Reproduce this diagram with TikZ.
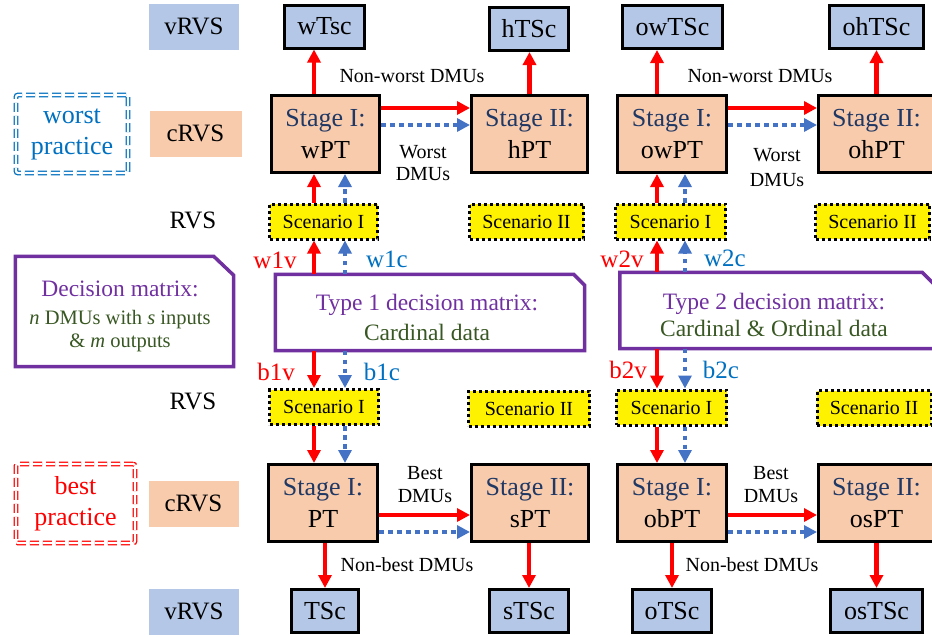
\documentclass[tikz,border=0pt]{standalone}
\usepackage{fontspec}
\setmainfont{Liberation Serif}
\usetikzlibrary{arrows.meta,calc}
\definecolor{peach}{HTML}{F8CBAD}
\definecolor{lblue}{HTML}{B4C7E7}
\definecolor{arrblue}{HTML}{4472C4}
\definecolor{txtblue}{HTML}{0070C0}
\definecolor{navy}{HTML}{203864}
\definecolor{purp}{HTML}{7030A0}
\definecolor{dgreen}{HTML}{385723}
\begin{document}
\begin{tikzpicture}[x=1pt,y=-1pt,
  lblbox/.style={fill=#1, minimum width=90pt, minimum height=46pt, inner sep=0pt, font=\fontsize{25}{30}\selectfont},
  plain/.style={inner sep=0pt, font=\fontsize{25}{30}\selectfont},
  practice/.style={draw=#1, text=#1, double=white, double distance=2.2pt, line width=1.3pt,
     dash pattern=on 9pt off 4pt, rounded corners=2pt, align=center, inner sep=0pt,
     font=\fontsize{26}{31}\selectfont},
  stagebox/.style={draw=black, line width=3pt, fill=peach, minimum width=#1, minimum height=77pt,
     inner sep=0pt, align=center, font=\fontsize{26}{32}\selectfont},
  tscbox/.style={draw=black, line width=3pt, fill=lblue, minimum width=#1, minimum height=43pt,
     inner sep=0pt, font=\fontsize{26}{30}\selectfont},
  scen/.style={draw=black, line width=3pt, dash pattern=on 3pt off 3pt, fill=yellow,
     minimum width=#1, minimum height=35pt, inner sep=0pt, font=\fontsize{20}{24}\selectfont},
  lab/.style={inner sep=0pt, align=center, font=\fontsize{20}{22}\selectfont},
  vlab/.style={inner sep=0pt, text=#1, font=\fontsize{25}{30}\selectfont},
  redarr/.style={draw=red, line width=4.8pt, -{Triangle[width=13pt,length=13pt]}},
  bluearr/.style={draw=arrblue, line width=4.5pt, dash pattern=on 4.5pt off 4.5pt, -{Triangle[width=13pt,length=13pt]}},
  matbox/.style={minimum width=#1, minimum height=76pt, inner sep=0pt, align=center},
  matline/.style={draw=purp, line width=3.5pt, line join=miter}
]
\useasboundingbox (0,0) rectangle (932,637);

% left column
\node[lblbox=lblue] (vtop) at (194,26.5) {vRVS};
\node[lblbox=peach, minimum width=92pt] (ctop) at (195.5,133.5) {cRVS};
\node[plain] (rvstop) at (193,220) {RVS};
\node[plain] (rvsbot) at (193,401) {RVS};
\node[lblbox=peach] (cbot) at (193.5,503.5) {cRVS};
\node[lblbox=lblue] (vbot) at (194,611.5) {vRVS};
\node[practice=txtblue, minimum width=112pt, minimum height=78pt] (worst) at (72,134) {worst\\practice};
\node[practice=red, minimum width=119pt, minimum height=79pt] (best) at (75.5,503.5) {best\\practice};

% decision matrix
\node[matbox=218pt, minimum height=110pt] (dm) at (124.5,311.5) {};
\node[inner sep=0pt, align=center, font=\fontsize{20.5}{23}\selectfont] (dmtxt) at (120,316)
  {{\fontsize{23.5}{23}\selectfont\color{purp}Decision matrix:}\\[5pt]
   \color{dgreen}\textit{n} DMUs with \textit{s} inputs\\
   \color{dgreen}\& \textit{m} outputs};
\draw[matline] (dm.south west) -- (dm.north west) -- ($(dm.north east)+(-20,0)$) -- ($(dm.north east)+(0,19)$) -- (dm.south east) -- cycle;

\node[matbox=309pt] (t1) at (430,312.5) {};
\node[inner sep=0pt, align=center, font=\fontsize{23.5}{30}\selectfont] (t1txt) at (427,317)
  {\color{purp}Type 1 decision matrix:\\
   \color{dgreen}Cardinal data};
\draw[matline] (t1.south west) -- (t1.north west) -- ($(t1.north east)+(-11,0)$) -- ($(t1.north east)+(0,11)$) -- (t1.south east) -- cycle;

\node[matbox=314pt] (t2) at (777,310.5) {};
\node[inner sep=0pt, align=center, font=\fontsize{23.5}{27}\selectfont] (t2txt) at (774,315)
  {\color{purp}Type 2 decision matrix:\\
   \color{dgreen}Cardinal \& Ordinal data};
\draw[matline] (t2.south west) -- (t2.north west) -- ($(t2.north east)+(-12,0)$) -- ($(t2.north east)+(0,12)$) -- (t2.south east) -- cycle;

% stage boxes
\node[stagebox=108pt] (wPT) at (325.5,134) {\textcolor{navy}{Stage I:}\\wPT};
\node[stagebox=116pt] (hPT) at (529.5,134) {\textcolor{navy}{Stage II:}\\hPT};
\node[stagebox=109pt] (owPT) at (672,134) {\textcolor{navy}{Stage I:}\\owPT};
\node[stagebox=116pt] (ohPT) at (876.5,134) {\textcolor{navy}{Stage II:}\\ohPT};
\node[stagebox=109pt] (PT) at (323,503) {\textcolor{navy}{Stage I:}\\PT};
\node[stagebox=117pt] (sPT) at (530,503) {\textcolor{navy}{Stage II:}\\sPT};
\node[stagebox=109pt] (obPT) at (672,503) {\textcolor{navy}{Stage I:}\\obPT};
\node[stagebox=116pt] (osPT) at (876.5,503) {\textcolor{navy}{Stage II:}\\osPT};

% result boxes
\node[tscbox=80pt] (wTsc) at (324.5,26.5) {wTsc};
\node[tscbox=79pt] (hTSc) at (529,29) {hTSc};
\node[tscbox=100pt] (owTSc) at (672.5,27) {owTSc};
\node[tscbox=94pt] (ohTSc) at (876.5,27) {ohTSc};
\node[tscbox=67pt] (TSc) at (325,611) {TSc};
\node[tscbox=79pt] (sTSc) at (529,611) {sTSc};
\node[tscbox=79pt] (oTSc) at (672,611) {oTSc};
\node[tscbox=92pt] (osTSc) at (876.5,611) {osTSc};

% scenarios
\node[scen=108pt] (sw1) at (323.5,221.5) {Scenario I};
\node[scen=114pt] (sw2) at (526.5,221.5) {Scenario II};
\node[scen=110pt] (sw3) at (670.5,221.5) {Scenario I};
\node[scen=114pt] (sw4) at (872.5,221.5) {Scenario II};
\node[scen=109pt] (sb1) at (324,407) {Scenario I};
\node[scen=121pt] (sb2) at (529,408.5) {Scenario II};
\node[scen=110pt] (sb3) at (671.5,407.5) {Scenario I};
\node[scen=114pt] (sb4) at (874,408) {Scenario II};

% guide coordinates
\coordinate (xr1) at (314,0);
\coordinate (xb1) at (345,0);
\coordinate (xr2) at (657,0);
\coordinate (xb2) at (685,0);
\coordinate (yr1) at (0,108);
\coordinate (yb1) at (0,125);
\coordinate (yr2) at (0,515);
\coordinate (yb2) at (0,532);

% top half arrows
\draw[redarr] (wPT.north -| xr1) -- (wTsc.south -| xr1);
\draw[redarr] (hPT.north) -- (hPT.north |- hTSc.south);
\draw[redarr] (owPT.north -| xr2) -- (owTSc.south -| xr2);
\draw[redarr] (ohPT.north) -- (ohPT.north |- ohTSc.south);
\draw[redarr] (wPT.east |- yr1) -- (hPT.west |- yr1);
\draw[bluearr] (wPT.east |- yb1) -- (hPT.west |- yb1);
\draw[redarr] (owPT.east |- yr1) -- (ohPT.west |- yr1);
\draw[bluearr] (owPT.east |- yb1) -- (ohPT.west |- yb1);
\draw[redarr] (sw1.north -| xr1) -- (wPT.south -| xr1);
\draw[bluearr] (sw1.north -| xb1) -- (wPT.south -| xb1);
\draw[redarr] (sw3.north -| xr2) -- (owPT.south -| xr2);
\draw[bluearr] (sw3.north -| xb2) -- (owPT.south -| xb2);
\draw[redarr] (t1.north -| xr1) -- (sw1.south -| xr1);
\draw[bluearr] (t1.north -| xb1) -- (sw1.south -| xb1);
\draw[redarr] (t2.north -| xr2) -- (sw3.south -| xr2);
\draw[bluearr] (t2.north -| xb2) -- (sw3.south -| xb2);

% bottom half arrows
\draw[redarr] (t1.south -| xr1) -- (sb1.north -| xr1);
\draw[bluearr] (t1.south -| xb1) -- (sb1.north -| xb1);
\draw[redarr] (t2.south -| xr2) -- (sb3.north -| xr2);
\draw[bluearr] (t2.south -| xb2) -- (sb3.north -| xb2);
\draw[redarr] (sb1.south -| xr1) -- (PT.north -| xr1);
\draw[bluearr] (sb1.south -| xb1) -- (PT.north -| xb1);
\draw[redarr] (sb3.south -| xr2) -- (obPT.north -| xr2);
\draw[bluearr] (sb3.south -| xb2) -- (obPT.north -| xb2);
\draw[redarr] (PT.east |- yr2) -- (sPT.west |- yr2);
\draw[bluearr] (PT.east |- yb2) -- (sPT.west |- yb2);
\draw[redarr] (obPT.east |- yr2) -- (osPT.west |- yr2);
\draw[bluearr] (obPT.east |- yb2) -- (osPT.west |- yb2);
\draw[redarr] (TSc.north |- PT.south) -- (TSc.north);
\draw[redarr] (sTSc.north |- sPT.south) -- (sTSc.north);
\draw[redarr] (obPT.south) -- (obPT.south |- oTSc.north);
\draw[redarr] (osPT.south) -- (osPT.south |- osTSc.north);

% labels
\node[lab] (nw1) at (412,76) {Non-worst DMUs};
\node[lab, font=\fontsize{20}{22}\selectfont] (wd1) at (423,163) {Worst\\DMUs};
\node[lab] (nw2) at (760,76) {Non-worst DMUs};
\node[lab, font=\fontsize{20}{25}\selectfont] (wd2) at (777,168) {Worst\\DMUs};
\node[lab, font=\fontsize{20}{23}\selectfont] (bd1) at (425,485) {Best\\DMUs};
\node[lab, font=\fontsize{20}{23}\selectfont] (bd2) at (771,485) {Best\\DMUs};
\node[lab] (nb1) at (407,565) {Non-best DMUs};
\node[lab] (nb2) at (752,565) {Non-best DMUs};

\node[vlab=red] (w1v) at (275,260) {w1v};
\node[vlab=txtblue] (w1c) at (387,259) {w1c};
\node[vlab=red] (b1v) at (276,372) {b1v};
\node[vlab=txtblue] (b1c) at (382,372) {b1c};
\node[vlab=red] (w2v) at (622,259) {w2v};
\node[vlab=txtblue] (w2c) at (725,258) {w2c};
\node[vlab=red] (b2v) at (628,370) {b2v};
\node[vlab=txtblue] (b2c) at (721,370) {b2c};
\end{tikzpicture}
\end{document}
